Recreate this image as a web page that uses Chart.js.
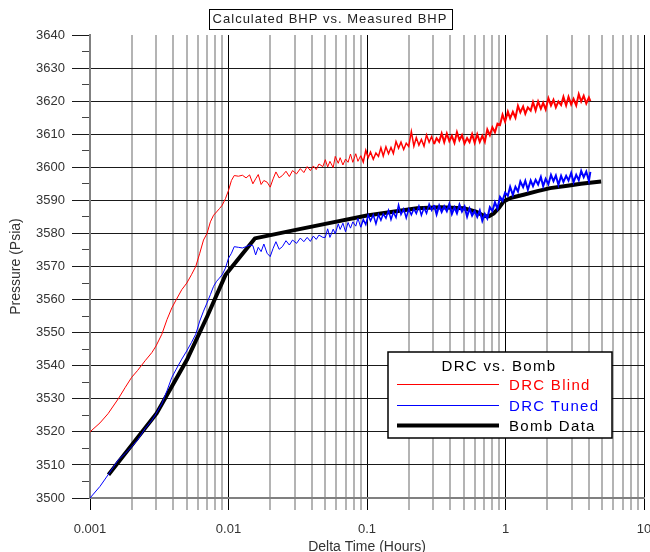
<!DOCTYPE html>
<html>
<head>
<meta charset="utf-8">
<title>Calculated BHP vs. Measured BHP</title>
<script src="https://cdn.jsdelivr.net/npm/chart.js@4.4.0/dist/chart.umd.min.js"></script>
<style>
  html, body { margin: 0; padding: 0; background: #fff; }
</style>
</head>
<body>
<canvas id="bhpChart" width="650" height="552"></canvas>
<script>
// values
var titleText = "Calculated BHP vs. Measured BHP";
var legendTitle = "DRC vs. Bomb";
var seriesNames = ["DRC Blind", "DRC Tuned", "Bomb Data"];

// shared time base of both DRC traces (hours)
var timeHours = [
  0.001, 0.00118, 0.00135, 0.0016, 0.0018, 0.002, 0.0022, 0.0025, 0.0028, 0.003,
  0.0033, 0.0036, 0.0039, 0.0042, 0.0046, 0.005, 0.0054, 0.0058, 0.0062, 0.0066,
  0.007, 0.0074, 0.0078, 0.0082, 0.0086, 0.009, 0.0095, 0.01,
  0.0105, 0.011, 0.0118, 0.0126, 0.0134, 0.0142, 0.015, 0.0157, 0.0164, 0.0172,
  0.018, 0.019, 0.02, 0.021, 0.022, 0.0232, 0.0245, 0.026, 0.0275, 0.029,
  0.031, 0.033, 0.035, 0.037, 0.039, 0.041, 0.043, 0.045, 0.048,
  0.05, 0.052, 0.054, 0.057, 0.059, 0.062, 0.064, 0.067, 0.07, 0.073,
  0.076, 0.079, 0.083, 0.086, 0.09, 0.094, 0.098, 0.102, 0.106, 0.111,
  0.116, 0.121, 0.126, 0.131, 0.137, 0.143, 0.149, 0.155, 0.162, 0.169,
  0.176, 0.184, 0.192, 0.2, 0.209, 0.218, 0.227, 0.237, 0.247, 0.258,
  0.269, 0.281, 0.293, 0.305, 0.318, 0.332, 0.346, 0.361, 0.377, 0.393,
  0.41, 0.428, 0.446, 0.465, 0.485, 0.506, 0.528, 0.55, 0.574, 0.599,
  0.625, 0.652, 0.68, 0.709, 0.739, 0.771, 0.804, 0.839, 0.875, 0.913,
  0.952, 0.993, 1.04, 1.08, 1.13, 1.18, 1.23, 1.28, 1.34, 1.39,
  1.45, 1.52, 1.58, 1.65, 1.72, 1.8, 1.87, 1.95, 2.04, 2.13,
  2.22, 2.31, 2.41, 2.52, 2.62, 2.74, 2.85, 2.98, 3.1, 3.24,
  3.38, 3.52, 3.67, 3.83, 4.0, 4.1
];

// DRC Blind (psia)
var drcBlind = [
  3520, 3522.7, 3525.5, 3530, 3533.5, 3536.5, 3538.5, 3541.5, 3544, 3546,
  3549.5, 3554, 3557.5, 3560, 3563, 3565, 3567.5, 3570, 3574, 3578,
  3580, 3583.5, 3585.5, 3586.5, 3587.5, 3588.5, 3590.5, 3593,
  3596, 3597.5, 3597.3, 3597.6, 3596.8, 3597.7, 3595, 3596.5, 3597.8, 3594.8,
  3596, 3595.5, 3594, 3596.5, 3598.6, 3596.8, 3597.5, 3598.8, 3597.2, 3599,
  3598, 3599.6, 3598.4, 3600.2, 3599, 3600.4, 3599.3, 3601, 3600.2,
  3602.3, 3600.1, 3601.8, 3599.9, 3603.3, 3601.2, 3602.9, 3600.7, 3602.5, 3601.5,
  3604.0, 3601.5, 3604.1, 3601.8, 3603.5, 3601.6, 3605.1, 3602.9, 3604.6, 3602.4,
  3604.3, 3603.3, 3605.9, 3603.4, 3606.2, 3604.1, 3606.0, 3604.2, 3607.8, 3605.8,
  3607.6, 3605.4, 3607.3, 3606.3, 3610.8, 3606.4, 3609.0, 3606.7, 3608.4, 3606.4,
  3609.8, 3607.6, 3609.3, 3607.0, 3608.8, 3607.7, 3610.2, 3607.6, 3610.2, 3607.9,
  3609.5, 3607.4, 3610.6, 3608.2, 3609.7, 3607.2, 3608.8, 3607.6, 3610.0, 3607.4,
  3610.0, 3607.7, 3609.5, 3607.7, 3611.4, 3609.7, 3612.1, 3610.6, 3613.2, 3612.8,
  3615.9, 3613.8, 3616.8, 3614.8, 3616.8, 3615.0, 3618.6, 3616.6, 3618.4, 3616.2,
  3618.1, 3617.1, 3619.7, 3617.2, 3619.9, 3617.7, 3619.5, 3617.5, 3620.9, 3618.7,
  3620.4, 3618.1, 3619.9, 3618.8, 3621.3, 3618.7, 3621.3, 3619.0, 3620.7, 3618.7,
  3622.1, 3619.9, 3621.6, 3619.3, 3621.1, 3620.0
];

// DRC Tuned (psia)
var drcTuned = [
  3500, 3503.5, 3507, 3511.5, 3513.5, 3515.5, 3517.5, 3521, 3523.5, 3525.5,
  3528.5, 3532.5, 3536.5, 3539, 3542, 3544.5, 3547, 3549.5, 3553.5, 3556.5,
  3559, 3561.5, 3564, 3565.5, 3566.5, 3567.5, 3569.5, 3572.5,
  3574, 3576, 3575.8, 3575.6, 3576, 3576.5, 3576.3, 3573.5, 3575.8, 3574.5,
  3576.8, 3574, 3573, 3575.5, 3577.5, 3575.2, 3576, 3577.8, 3576.5, 3578,
  3577, 3578.6, 3577.5, 3578.8, 3577.6, 3579.2, 3578.2, 3579.5, 3578.8,
  3578.8, 3581.4, 3578.8, 3581.3, 3579.9, 3582.9, 3581.2, 3583.1, 3580.5, 3583.3,
  3581.6, 3583.5, 3582.2, 3584.6, 3581.9, 3584.2, 3582.7, 3585.6, 3583.8, 3585.6,
  3582.9, 3585.7, 3584.0, 3585.9, 3584.6, 3587.0, 3584.2, 3586.4, 3584.8, 3588.6,
  3585.7, 3587.4, 3584.7, 3587.4, 3585.6, 3587.4, 3586.0, 3588.3, 3585.5, 3587.7,
  3586.1, 3588.9, 3587.0, 3588.6, 3585.8, 3588.4, 3586.5, 3588.2, 3586.7, 3588.9,
  3585.9, 3587.9, 3586.1, 3588.7, 3586.6, 3588.1, 3585.1, 3587.5, 3585.4, 3586.8,
  3585.0, 3586.9, 3583.8, 3585.9, 3584.5, 3587.9, 3586.8, 3589.4, 3587.5, 3591.0,
  3589.9, 3592.3, 3591.4, 3594.1, 3591.6, 3594.1, 3592.7, 3595.7, 3594.0, 3595.9,
  3593.2, 3596.0, 3594.3, 3596.2, 3594.8, 3597.1, 3594.3, 3596.5, 3594.9, 3597.7,
  3595.8, 3597.5, 3594.7, 3597.4, 3595.6, 3597.4, 3596.0, 3598.3, 3595.5, 3597.7,
  3596.1, 3598.9, 3597.0, 3598.7, 3595.9, 3598.6
];

// bomb gauge
var bombTime = [
  0.00136, 0.00303, 0.005, 0.007, 0.0095, 0.0155, 0.03, 0.05, 0.1, 0.23,
  0.34, 0.5, 0.62, 0.7, 0.76, 0.82, 0.9, 0.97, 1.1, 1.35,
  1.7, 2.1, 2.8, 3.5, 4.9
];
var bombPsi = [
  3507, 3525.6, 3541.7, 3554.8, 3567.4, 3578.5, 3581, 3582.9, 3585.4, 3587.6,
  3587.9, 3587.6, 3586.5, 3585.3, 3585.2, 3586, 3587.8, 3589.7, 3590.8, 3591.7,
  3592.8, 3593.7, 3594.4, 3595, 3595.7
];

// axis ticks
var decadeTicks = [0.001, 0.01, 0.1, 1, 10];
var minorSteps = [2, 3, 4, 5, 6, 7, 8, 9];
var psiMin = 3500;
var psiMax = 3640;

//build log tick list: decades plus 2..9 inside each decade
var xTickValues = [];
decadeTicks.forEach(function (d, i) {
  xTickValues.push(d);
  if (i < decadeTicks.length - 1) {
    minorSteps.forEach(function (m) {
      xTickValues.push(+(d * m).toPrecision(3));
    });
  }
});

function isDecade(v) {
  var l = Math.log10(v);
  return Math.abs(l - Math.round(l)) < 1e-6;
}

function toPoints(xs, ys) {
  return xs.map(function (x, i) {
    return { x: x, y: ys[i] };
  });
}

//the gauge noise gets denser later on, draw that part a bit heavier
var noisyBand = {
  borderWidth: function (c) {
    var t = c.p0.parsed.x;
    if (t >= 0.3) return 2;
    if (t >= 0.09) return 1.5;
    return 1;
  },
};

var fontFamily = "'Liberation Sans', Arial, sans-serif";
Chart.defaults.font.family = fontFamily;

//title in a thin box
var boxedTitle = {
  id: "boxedTitle",
  afterDraw: function (chart) {
    var c = chart.ctx;
    c.save();
    c.font = "13px " + fontFamily;
    c.letterSpacing = "1px";
    c.fillStyle = "#222";
    c.textAlign = "center";
    c.textBaseline = "middle";
    c.fillText(titleText, 330, 19);
    var w = c.measureText(titleText).width;
    c.strokeStyle = "#000";
    c.lineWidth = 1;
    c.strokeRect(Math.round(330 - w / 2 - 4) + 0.5, 9.5, Math.round(w + 8), 20);
    c.restore();
  },
};

//legend box inside the plot, text in series colour
var boxLegend = {
  id: "boxLegend",
  afterDraw: function (chart) {
    var c = chart.ctx;
    var x0 = 388, y0 = 352, w = 224, h = 86;
    c.save();
    c.fillStyle = "#fff";
    c.fillRect(x0, y0, w, h);
    c.strokeStyle = "#000";
    c.lineWidth = 1.5;
    c.strokeRect(x0, y0, w, h);
    c.font = "15px " + fontFamily;
    c.letterSpacing = "1.3px";
    c.textBaseline = "middle";
    c.textAlign = "center";
    c.fillStyle = "#000";
    c.fillText(legendTitle, 499, 367);
    c.textAlign = "left";
    chart.data.datasets.forEach(function (ds, i) {
      var y = Math.round(384 + i * 20.7) + 0.5;
      c.beginPath();
      c.strokeStyle = ds.borderColor;
      c.lineWidth = ds.borderWidth;
      c.moveTo(397, y);
      c.lineTo(499, y);
      c.stroke();
      c.fillStyle = ds.textColor;
      c.fillText(ds.label, 509, y + 1);
    });
    c.restore();
  },
};

var ctx = document.getElementById("bhpChart");
var myChart = new Chart(ctx, {
  type: "line",
  data: {
    datasets: [
      {
        label: seriesNames[0],
        data: toPoints(timeHours, drcBlind),
        borderColor: "#ff0000",
        textColor: "#ff0000",
        borderWidth: 1,
        segment: noisyBand,
        order: 2,
      },
      {
        label: seriesNames[1],
        data: toPoints(timeHours, drcTuned),
        borderColor: "#0000ff",
        textColor: "#0000ff",
        borderWidth: 1,
        segment: noisyBand,
        order: 1,
      },
      {
        label: seriesNames[2],
        data: toPoints(bombTime, bombPsi),
        borderColor: "#000000",
        textColor: "#000000",
        borderWidth: 4,
        borderJoinStyle: "round",
        borderCapStyle: "butt",
        order: 3,
      },
    ],
  },
  options: {
    responsive: false,
    animation: false,
    layout: { padding: { top: 35, right: 6, left: 0, bottom: 0 } },
    elements: { point: { radius: 0 }, line: { tension: 0 } },
    plugins: {
      legend: { display: false },
      title: { display: false },
      tooltip: { enabled: false },
    },
    scales: {
      x: {
        type: "logarithmic",
        position: "bottom",
        min: decadeTicks[0],
        max: decadeTicks[decadeTicks.length - 1],
        afterBuildTicks: function (axis) {
          axis.ticks = xTickValues.map(function (v) {
            return { value: v };
          });
        },
        afterFit: function (axis) {
          axis.height = 54;
          axis.paddingLeft = 0;
          axis.paddingRight = 0;
        },
        grid: {
          color: function (c) {
            return c.tick && isDecade(c.tick.value) ? "#000" : "#b4b4b4";
          },
          lineWidth: function (c) {
            return c.tick && isDecade(c.tick.value) ? 1 : 2;
          },
          tickLength: 12,
        },
        border: { color: "#808080", width: 2 },
        ticks: {
          autoSkip: false,
          maxRotation: 0,
          padding: 12,
          color: "#333",
          font: { size: 13 },
          callback: function (v) {
            return isDecade(v) ? String(v) : "";
          },
        },
        title: {
          display: true,
          text: "Delta Time (Hours)",
          color: "#333",
          font: { size: 14 },
          padding: { top: 0, bottom: -4 },
        },
      },
      y: {
        type: "linear",
        position: "left",
        weight: 1,
        min: psiMin,
        max: psiMax,
        afterFit: function (axis) {
          axis.width = 90;
        },
        ticks: {
          stepSize: 10,
          padding: 7,
          color: "#333",
          font: { size: 13 },
          callback: function (v) {
            return String(v);
          },
        },
        grid: {
          color: function (c) {
            return c.tick && c.tick.value === psiMax ? "rgba(0,0,0,0)" : "#1a1a1a";
          },
          tickColor: "#1a1a1a",
          tickLength: 18,
        },
        border: { color: "#808080", width: 2 },
        title: {
          display: true,
          text: "Pressure (Psia)",
          color: "#333",
          font: { size: 14 },
          padding: { top: 8, bottom: 0 },
        },
      },
      yMinor: {
        type: "linear",
        position: "left",
        weight: 0,
        min: psiMin,
        max: psiMax,
        afterFit: function (axis) {
          axis.width = 0;
        },
        ticks: { display: false, stepSize: 5 },
        grid: {
          drawOnChartArea: false,
          tickLength: 8,
          color: function (c) {
            return c.tick && c.tick.value % 10 !== 0 ? "#444" : "rgba(0,0,0,0)";
          },
        },
        border: { display: false },
      },
    },
  },
  plugins: [boxedTitle, boxLegend],
});
</script>
</body>
</html>
